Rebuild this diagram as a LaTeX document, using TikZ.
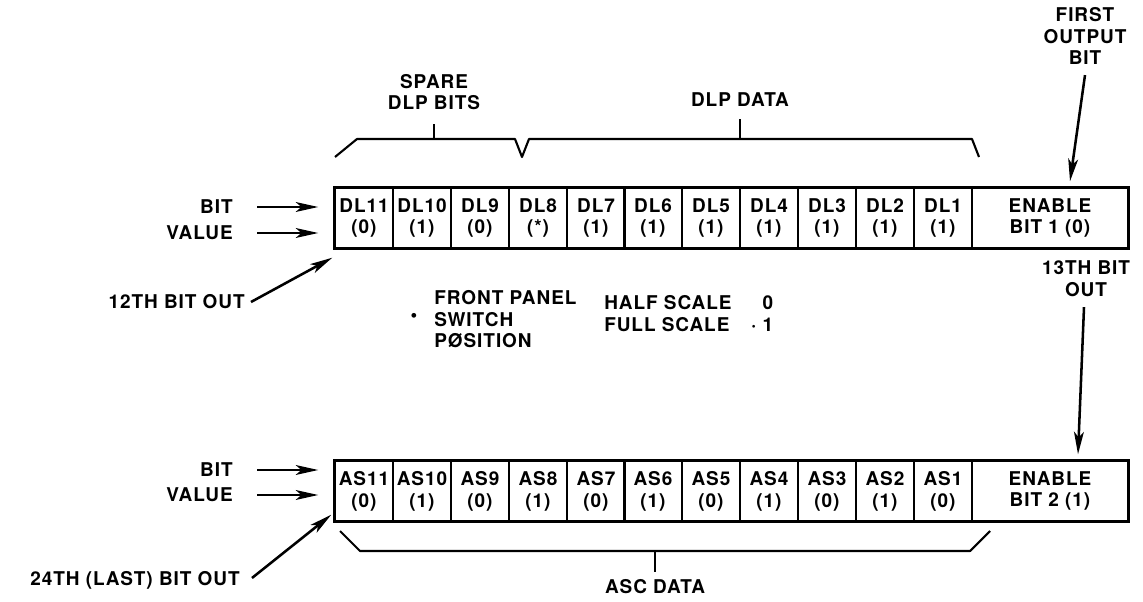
\documentclass[tikz,border=0pt]{standalone}
\usepackage{fontspec}
\setmainfont[LetterSpace=5]{TeX Gyre Heros}
\usetikzlibrary{arrows.meta, positioning, calc}

\begin{document}
\begin{tikzpicture}[x=0.025cm, y=-0.025cm,
    cell/.style={rectangle, draw, line width=1pt, minimum width=1.45cm, minimum height=1.5cm, inner sep=0pt, align=center, font=\bfseries\fontsize{13.5}{15.5}\selectfont},
    enable/.style={cell, minimum width=3.9cm},
    regframe/.style={line width=2.2pt},
    lbl/.style={inner sep=0pt, align=center, font=\bfseries\fontsize{13.5}{15.5}\selectfont},
    brace/.style={line width=1.5pt, line join=round},
    arrow/.style={-{Stealth[length=16pt, width=7pt, inset=4pt]}, line width=1.8pt}
]
\useasboundingbox (0,0) rectangle (1143,602);

% DLP register
\node[cell] (dl11) at (364,218) {DL11\\(0)};
\node[cell] (dl10) at (422,218) {DL10\\(1)};
\node[cell] (dl9) at (480,218) {DL9\\(0)};
\node[cell] (dl8) at (538,218) {DL8\\(*)};
\node[cell] (dl7) at (596,218) {DL7\\(1)};
\node[cell] (dl6) at (653,218) {DL6\\(1)};
\node[cell] (dl5) at (711,218) {DL5\\(1)};
\node[cell] (dl4) at (769,218) {DL4\\(1)};
\node[cell] (dl3) at (827,218) {DL3\\(1)};
\node[cell] (dl2) at (885,218) {DL2\\(1)};
\node[cell] (dl1) at (943,218) {DL1\\(1)};
\node[enable] (en1) at (1050,218) {ENABLE\\BIT 1 (0)};
\draw[regframe] (dl11.north west) rectangle (en1.south east);

% ASC register
\node[cell] (as11) at (364,491) {AS11\\(0)};
\node[cell] (as10) at (422,491) {AS10\\(1)};
\node[cell] (as9) at (480,491) {AS9\\(0)};
\node[cell] (as8) at (538,491) {AS8\\(1)};
\node[cell] (as7) at (596,491) {AS7\\(0)};
\node[cell] (as6) at (653,491) {AS6\\(1)};
\node[cell] (as5) at (711,491) {AS5\\(0)};
\node[cell] (as4) at (769,491) {AS4\\(1)};
\node[cell] (as3) at (827,491) {AS3\\(0)};
\node[cell] (as2) at (885,491) {AS2\\(1)};
\node[cell] (as1) at (943,491) {AS1\\(0)};
\node[enable] (en2) at (1050,491) {ENABLE\\BIT 2 (1)};
\draw[regframe] (as11.north west) rectangle (en2.south east);

% inputs on the left
\node[lbl, anchor=east] (bitA) at (233,207) {BIT};
\node[lbl, anchor=east] (valA) at (233,233) {VALUE};
\node[lbl, anchor=east] (bitB) at (233,470) {BIT};
\node[lbl, anchor=east] (valB) at (233,495) {VALUE};
\draw[arrow] ($(bitA.east)+(24,0)$) -- ($(bitA.east -| dl11.west)+(-16,0)$);
\draw[arrow] ($(valA.east)+(24,0)$) -- ($(valA.east -| dl11.west)+(-16,0)$);
\draw[arrow] ($(bitB.east)+(24,0)$) -- ($(bitB.east -| as11.west)+(-16,0)$);
\draw[arrow] ($(valB.east)+(24,0)$) -- ($(valB.east -| as11.west)+(-16,0)$);

% bit order notes
\node[lbl] (first) at (1085,36) {FIRST\\OUTPUT\\BIT};
\node[lbl] (thirteenth) at (1086,279) {13TH BIT\\OUT};
\node[lbl, anchor=east] (twelfth) at (245,302) {12TH BIT OUT};
\node[lbl, anchor=east] (lastbit) at (240,580) {24TH (LAST) BIT OUT};
\draw[arrow] ($(first.south)+(0,10)$) -- ($(en1.north)+(20,-6)$);
\draw[arrow] ($(thirteenth.south)+(-2,10)$) -- ($(en2.north)+(28,-6)$);
\draw[arrow] ($(twelfth.east)+(6,0)$) -- ($(dl11.south west)+(-2,9)$);
\draw[arrow] ($(lastbit.east)+(12,-2)$) -- ($(as11.south west)+(-3,-7)$);

% brackets
\node[lbl] (spare) at (434,92) {SPARE\\DLP BITS};
\node[lbl] (dlpdata) at (740,100) {DLP DATA};
\node[lbl] (ascdata) at (655,587) {ASC DATA};
\draw[brace] (335,157) -- (357,139) -- (515,139) -- (522,157) -- (529,139) -- (972,139) -- (979,157);
\draw[brace] (434,139) -- ($(spare.south)+(0,14)$);
\draw[brace] (740,139) -- ($(dlpdata.south)+(0,12)$);
\draw[brace] (340,531) -- (360,551) -- (970,551) -- (990,531);
\draw[brace] (655,551) -- ($(ascdata.north)+(0,-8)$);

% switch note
\node[lbl] (dot) at (414,317) {\textbullet};
\node[lbl, anchor=north west, align=left] (note) at (434,290) {FRONT PANEL\\SWITCH\\PØSITION};
\node[lbl, anchor=north west] (scale) at (604,294) {\begin{tabular}{@{}l@{\hspace{14pt}}r@{}}HALF SCALE & 0\\FULL SCALE & · 1\end{tabular}};
\end{tikzpicture}
\end{document}
